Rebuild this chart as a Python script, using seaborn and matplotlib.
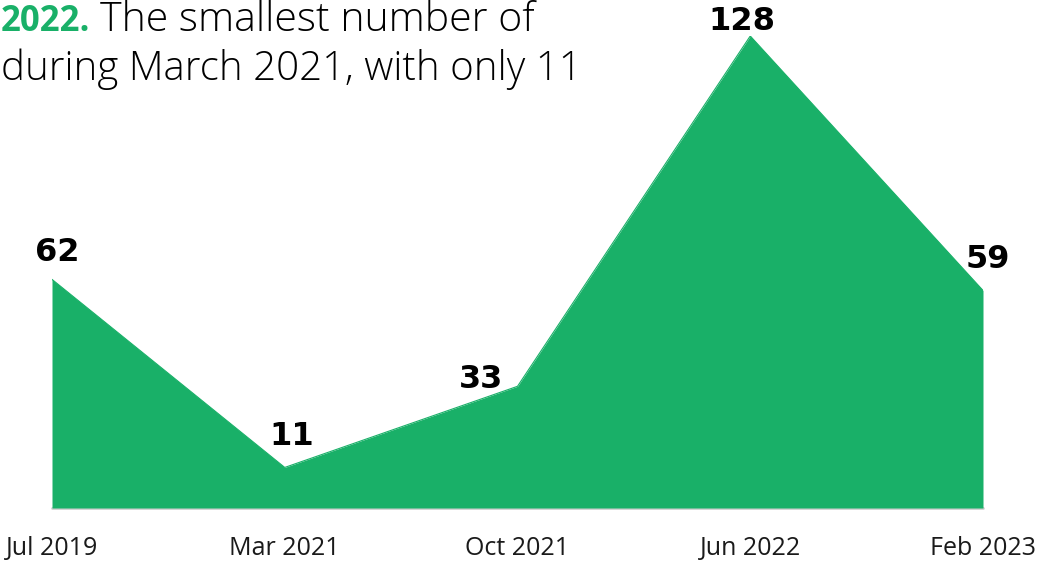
import matplotlib
matplotlib.use("Agg")
import matplotlib.pyplot as plt
import seaborn as sns
import pandas as pd
import numpy as np

months = ["Jul 2019", "Mar 2021", "Oct 2021", "Jun 2022", "Feb 2023"]
counts = [62, 11, 33, 128, 59]

GREEN = "#19b068"

sns.set_theme(style="white")
plt.rcParams["font.family"] = ["Open Sans", "DejaVu Sans"]

df = pd.DataFrame({"month": months, "count": counts})
df["pos"] = np.arange(len(df))

W, H = 1045, 572
fig = plt.figure(figsize=(W / 100, H / 100), dpi=100)
ax = fig.add_axes([52 / W, 64 / H, 931 / W, 472 / H])

sns.lineplot(data=df, x="pos", y="count", ax=ax, color=GREEN, linewidth=0.8)
ax.fill_between(df["pos"], df["count"], 0, color=GREEN, linewidth=0)

ax.set_xlim(0, len(df) - 1)
ax.set_ylim(0, max(counts))
ax.axhline(0, color="#cfcfcf", linewidth=2, zorder=0, clip_on=False)

ax.set_xticks(df["pos"])
ax.set_xticklabels(df["month"], fontsize=18, color="#1a1a1a")
ax.tick_params(axis="x", length=0, pad=20)
ax.set_yticks([])
ax.set_xlabel("")
ax.set_ylabel("")
for s in ax.spines.values():
    s.set_visible(False)

# value labels, nudged (in points) so they sit clear of the slope
nudges = [(3.6, 13), (5, 16), (-26, -1.5), (-6, 4), (3.6, 16)]
for (x, y), (dx, dy) in zip(zip(df["pos"], df["count"]), nudges):
    ax.annotate(f"{y}", (x, y), xytext=(dx, dy), textcoords="offset points",
                ha="center", va="baseline", fontsize=23, fontweight="bold",
                family=["DejaVu Sans"], color="black",
                annotation_clip=False)

# headline copy running across the top
fig.text(1 / W, 1 - 31 / H, "2022.", fontsize=25, fontweight="bold",
         color=GREEN, ha="left", va="baseline")
fig.text(100 / W, 1 - 31 / H, "The smallest number of", fontsize=29.5,
         fontweight="light", color="#000000", ha="left", va="baseline")
fig.text(1 / W, 1 - 80 / H, "during March 2021, with only 11", fontsize=29,
         fontweight="light", color="#000000", ha="left", va="baseline")

fig.savefig("out.png", dpi=100)
